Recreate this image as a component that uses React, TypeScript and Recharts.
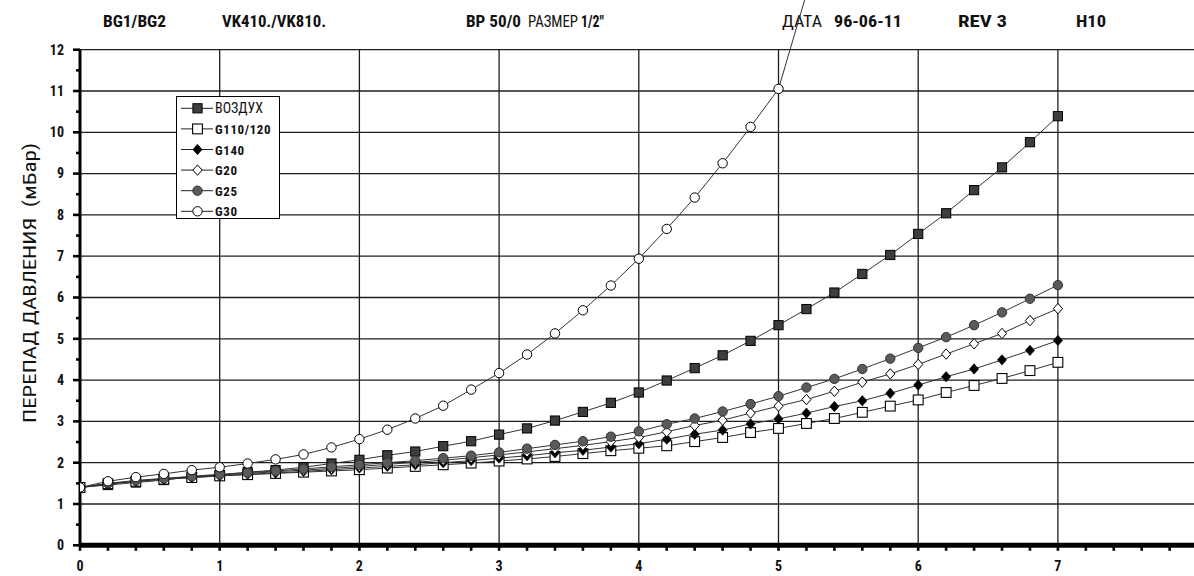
import React from 'react';
import { LineChart, Line, XAxis, YAxis, CartesianGrid, Customized } from 'recharts';

// ---------- data ----------
const xValues = [0, 0.2, 0.4, 0.6, 0.8, 1, 1.2, 1.4, 1.6, 1.8, 2, 2.2, 2.4, 2.6, 2.8, 3, 3.2, 3.4, 3.6, 3.8, 4, 4.2, 4.4, 4.6, 4.8, 5, 5.2, 5.4, 5.6, 5.8, 6, 6.2, 6.4, 6.6, 6.8, 7];

const airValues = [1.40, 1.46, 1.52, 1.58, 1.66, 1.70, 1.77, 1.82, 1.89, 1.98, 2.07, 2.18, 2.27, 2.40, 2.52, 2.68, 2.83, 3.02, 3.23, 3.45, 3.70, 3.99, 4.29, 4.60, 4.95, 5.33, 5.72, 6.12, 6.57, 7.03, 7.54, 8.04, 8.60, 9.15, 9.76, 10.39];
const g110Values = [1.40, 1.49, 1.55, 1.60, 1.64, 1.68, 1.71, 1.74, 1.77, 1.80, 1.83, 1.87, 1.91, 1.95, 1.99, 2.04, 2.09, 2.15, 2.22, 2.29, 2.35, 2.41, 2.51, 2.61, 2.73, 2.83, 2.95, 3.07, 3.22, 3.37, 3.52, 3.70, 3.87, 4.04, 4.23, 4.43];
const g140Values = [1.40, 1.48, 1.55, 1.60, 1.64, 1.68, 1.72, 1.75, 1.79, 1.83, 1.87, 1.91, 1.95, 2.00, 2.05, 2.11, 2.17, 2.24, 2.30, 2.38, 2.46, 2.57, 2.69, 2.79, 2.94, 3.06, 3.20, 3.36, 3.50, 3.68, 3.88, 4.08, 4.27, 4.49, 4.72, 4.96];
const g20Values = [1.40, 1.49, 1.56, 1.61, 1.66, 1.70, 1.74, 1.78, 1.82, 1.86, 1.91, 1.96, 2.01, 2.06, 2.12, 2.19, 2.26, 2.34, 2.42, 2.51, 2.61, 2.75, 2.90, 3.03, 3.20, 3.37, 3.53, 3.73, 3.95, 4.15, 4.38, 4.63, 4.88, 5.13, 5.44, 5.73];
const g25Values = [1.40, 1.50, 1.57, 1.62, 1.67, 1.72, 1.76, 1.80, 1.85, 1.90, 1.95, 2.00, 2.05, 2.11, 2.17, 2.25, 2.34, 2.43, 2.52, 2.63, 2.76, 2.93, 3.07, 3.24, 3.42, 3.61, 3.82, 4.03, 4.27, 4.52, 4.78, 5.04, 5.33, 5.64, 5.97, 6.30];
const g30Values = [1.40, 1.55, 1.65, 1.73, 1.82, 1.89, 1.98, 2.08, 2.20, 2.37, 2.57, 2.80, 3.07, 3.38, 3.77, 4.17, 4.62, 5.13, 5.69, 6.29, 6.94, 7.66, 8.42, 9.25, 10.13, 11.05, 13.35];

const xTicks = [0, 0.2, 0.4, 0.6, 0.8, 1, 1.2, 1.4, 1.6, 1.8, 2, 2.2, 2.4, 2.6, 2.8, 3, 3.2, 3.4, 3.6, 3.8, 4, 4.2, 4.4, 4.6, 4.8, 5, 5.2, 5.4, 5.6, 5.8, 6, 6.2, 6.4, 6.6, 6.8, 7, 7.2, 7.4, 7.6, 7.8, 8];
const yTicks = [0, 0.5, 1, 1.5, 2, 2.5, 3, 3.5, 4, 4.5, 5, 5.5, 6, 6.5, 7, 7.5, 8, 8.5, 9, 9.5, 10, 10.5, 11, 11.5, 12];
const gridXValues = [1, 2, 3, 4, 5, 6, 7, 8];
const gridYValues = [1, 2, 3, 4, 5, 6, 7, 8, 9, 10, 11, 12];

const yAxisTitle = 'ПЕРЕПАД ДАВЛЕНИЯ  (мБар)';
const headerTexts = ['BG1/BG2', 'VK410./VK810.', 'BP 50/0', 'РАЗМЕР', '1/2"', 'ДАТА', '96-06-11', 'REV 3', 'H10'];
const headerBold = [true, true, true, false, true, false, true, true, true];
const headerX = [103, 222, 466, 528, 581, 782, 834, 958, 1076];
const headerLen = [63, 104, 55, 50, 23, 40, 68, 49, 30];

const seriesNames = ['ВОЗДУХ', 'G110/120', 'G140', 'G20', 'G25', 'G30'];
const seriesKeys = ['air', 'g110', 'g140', 'g20', 'g25', 'g30'];
const seriesShapes = ['sqFill', 'sqOpen', 'diaFill', 'diaOpen', 'cirFill', 'cirOpen'];
const seriesBold = [false, true, true, true, true, true];

const seriesArrays = [airValues, g110Values, g140Values, g20Values, g25Values];

const data = xValues.map((x, i) => {
  const row: any = { x };
  seriesArrays.forEach((arr, s) => {
    row[seriesKeys[s]] = arr[i];
  });
  return row;
});
const g30Data = xValues.slice(0, g30Values.length).map((x, i) => ({ x, g30: g30Values[i] }));

const FONT = "'Liberation Sans Narrow', 'Arial Narrow', 'Roboto Condensed', 'DejaVu Sans Condensed', 'Liberation Sans', sans-serif";

const W = 1210;
const H = 576;
const MARGIN = { top: 49.7, right: 12.4, bottom: 4.7, left: 0 };

function Marker({ shape, cx, cy }: { shape: string; cx: number; cy: number }) {
  switch (shape) {
    case 'sqFill':
      return <rect x={cx - 4.6} y={cy - 4.6} width={9.2} height={9.2} fill="#3d3d3d" stroke="#000" strokeWidth={1} />;
    case 'sqOpen':
      return <rect x={cx - 4.9} y={cy - 4.9} width={9.8} height={9.8} fill="#fff" stroke="#000" strokeWidth={1.1} />;
    case 'diaFill':
      return <polygon points={`${cx},${cy - 5.2} ${cx + 4.6},${cy} ${cx},${cy + 5.2} ${cx - 4.6},${cy}`} fill="#000" stroke="#000" strokeWidth={0.6} />;
    case 'diaOpen':
      return <polygon points={`${cx},${cy - 5.2} ${cx + 4.6},${cy} ${cx},${cy + 5.2} ${cx - 4.6},${cy}`} fill="#fff" stroke="#000" strokeWidth={1} />;
    case 'cirFill':
      return <circle cx={cx} cy={cy} r={4.7} fill="#5a5a5a" stroke="#333" strokeWidth={1} />;
    default:
      return <circle cx={cx} cy={cy} r={4.7} fill="#fff" stroke="#000" strokeWidth={1} />;
  }
}

const makeDot = (shape: string) => (props: any) => {
  const { cx, cy, index, value } = props;
  if (cx == null || cy == null || value == null || Number.isNaN(cy)) return <g key={`d-${shape}-${index}`} />;
  return (
    <g key={`d-${shape}-${index}`}>
      <Marker shape={shape} cx={cx} cy={cy} />
    </g>
  );
};

const YTick = (props: any) => {
  const { x, y, payload } = props;
  const v = payload.value;
  const major = Number.isInteger(v);
  return (
    <g>
      {major && <line x1={x + 9} x2={x + 12} y1={y} y2={y} stroke="#000" strokeWidth={2.6} />}
      {major && (
        <text x={x} y={y} dy={4.8} textAnchor="end" fontFamily={FONT} fontWeight={700} fontSize={14} fill="#111">
          {v}
        </text>
      )}
    </g>
  );
};

const XTick = (props: any) => {
  const { x, y, payload } = props;
  const v = payload.value;
  if (!Number.isInteger(v)) return <g />;
  return (
    <text x={x} y={y} dy={10} textAnchor="middle" fontFamily={FONT} fontWeight={700} fontSize={14} fill="#111">
      {v}
    </text>
  );
};

const Overlay = () => {
  const lx = 176.5;
  const ly = 96.5;
  const lw = 103;
  const lh = 122;
  return (
    <g>
      {headerTexts.map((t, i) => (
        <text
          key={t}
          x={headerX[i]}
          y={27}
          textLength={headerLen[i]}
          lengthAdjust="spacingAndGlyphs"
          fontFamily={FONT}
          fontSize={16}
          fontWeight={headerBold[i] ? 700 : 400}
          fill="#111"
        >
          {t}
        </text>
      ))}
      <text
        transform="rotate(-90)"
        x={-283}
        y={36}
        textAnchor="middle"
        textLength={280}
        lengthAdjust="spacingAndGlyphs"
        fontFamily={FONT}
        fontSize={18}
        fill="#111"
        style={{ whiteSpace: 'pre' }}
      >
        {yAxisTitle}
      </text>
      <rect x={lx} y={ly} width={lw} height={lh} fill="#fff" stroke="#000" strokeWidth={1} />
      {seriesNames.map((n, i) => {
        const cy = ly + 11.8 + i * 20.6;
        return (
          <g key={n}>
            <line x1={lx + 4.5} x2={lx + 36.5} y1={cy} y2={cy} stroke="#222" strokeWidth={1} />
            <Marker shape={seriesShapes[i]} cx={lx + 21} cy={cy} />
            <text
              x={lx + 38.5}
              y={cy + 5}
              fontFamily={FONT}
              fontSize={seriesBold[i] ? 13 : 14}
              fontWeight={seriesBold[i] ? 700 : 400}
              letterSpacing={seriesBold[i] ? 0.6 : 0}
              fill="#111"
            >
              {n}
            </text>
          </g>
        );
      })}
    </g>
  );
};

export default function App() {
  return (
    <div style={{ position: 'fixed', left: 0, top: 0, width: 1194, height: 576, overflow: 'hidden', background: '#fff' }}>
      <style>{`.g30-line, .g30-line [clip-path] { clip-path: none !important; } svg.recharts-surface { overflow: visible; }`}</style>
      <LineChart width={W} height={H} data={data} margin={MARGIN}>
        <CartesianGrid
          horizontalValues={gridYValues}
          verticalValues={gridXValues}
          stroke="#1e1e1e"
          strokeWidth={1.3}
        />
        <XAxis
          dataKey="x"
          type="number"
          domain={[0, 8]}
          ticks={xTicks}
          interval={0}
          height={26}
          tickSize={5.5}
          tickMargin={10.5}
          axisLine={{ stroke: '#000', strokeWidth: 5 }}
          tickLine={{ stroke: '#000', strokeWidth: 2.6 }}
          tick={<XTick />}
          allowDataOverflow
        />
        <YAxis
          type="number"
          domain={[0, 12]}
          ticks={yTicks}
          interval={0}
          width={80}
          tickSize={4}
          tickMargin={12}
          axisLine={{ stroke: '#000', strokeWidth: 3 }}
          tickLine={{ stroke: '#000', strokeWidth: 2.6 }}
          tick={<YTick />}
          allowDataOverflow
        />
        {seriesArrays.map((_, i) => (
          <Line
            key={seriesKeys[i]}
            dataKey={seriesKeys[i]}
            name={seriesNames[i]}
            type="linear"
            stroke="#333"
            strokeWidth={1}
            dot={makeDot(seriesShapes[i])}
            activeDot={false}
            isAnimationActive={false}
          />
        ))}
        <Line
          key="g30"
          className="g30-line"
          data={g30Data}
          dataKey="g30"
          name={seriesNames[5]}
          type="linear"
          stroke="#333"
          strokeWidth={1}
          dot={makeDot(seriesShapes[5])}
          activeDot={false}
          isAnimationActive={false}
        />
        <Customized component={Overlay} />
      </LineChart>
    </div>
  );
}
